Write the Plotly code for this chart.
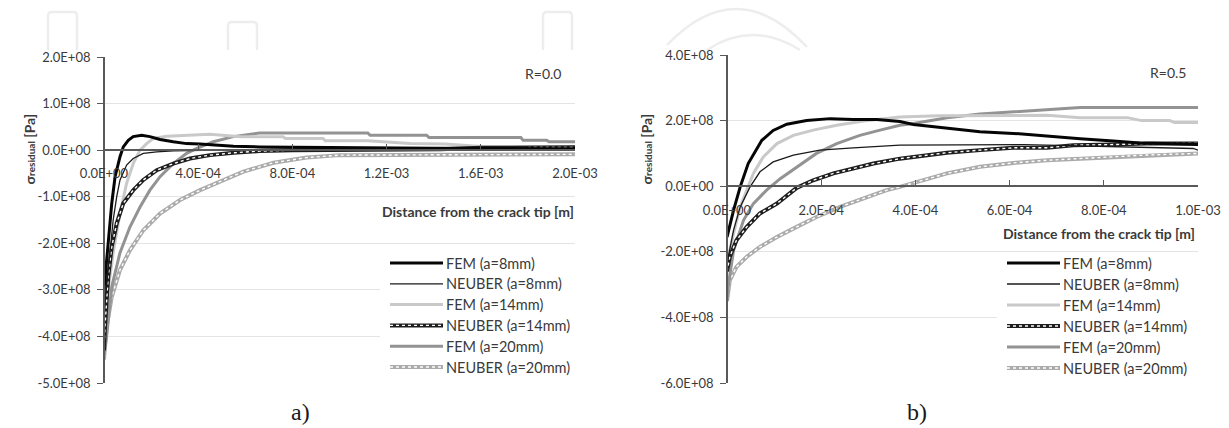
import plotly.graph_objects as go

# ---------------- data: residual stress ahead of the crack tip ----------------
# R = 0.0
r0_fem8_x = [0, 5e-6, 1.8e-5, 3.3e-5, 4.7e-5, 6.8e-5, 8.2e-5, 1.03e-4, 1.24e-4, 1.6e-4, 1.95e-4,
             2.38e-4, 2.94e-4, 3.51e-4, 4.08e-4, 5.5e-4, 6.6e-4, 8.5e-4, 1.0e-3, 1.4e-3, 2.0e-3]
r0_fem8_y = [-3.0e8, -2.7e8, -1.86e8, -1.14e8, -5.7e7, -1.4e7, 7e6, 2.1e7, 2.9e7, 3.2e7, 2.9e7,
             2.3e7, 1.8e7, 1.4e7, 1.3e7, 8.6e6, 7e6, 6e6, 5e6, 4e6, 3e6]
r0_neu8_x = [0, 4e-6, 1.1e-5, 2.5e-5, 3.9e-5, 5.4e-5, 6.8e-5, 9.6e-5, 1.24e-4, 1.67e-4, 2.24e-4,
             2.94e-4, 4.1e-4, 6e-4, 1.0e-3, 1.5e-3, 2.0e-3]
r0_neu8_y = [-3.5e8, -3.2e8, -2.93e8, -2.2e8, -1.5e8, -1.0e8, -6.4e7, -3.2e7, -1.8e7, -7e6, -3.6e6,
             -1.4e6, 0, 1e6, 2e6, 2.5e6, 3e6]
r0_fem14_x = [0, 4e-6, 1.5e-5, 3.9e-5, 6.8e-5, 9.6e-5, 1.24e-4, 1.53e-4, 1.81e-4, 2.09e-4, 2.66e-4,
              3.37e-4, 4.5e-4, 5.8e-4, 7.6e-4, 7.7e-4, 9.3e-4, 9.4e-4, 1.12e-3, 1.3e-3, 1.45e-3,
              1.6e-3, 2.0e-3]
r0_fem14_y = [-3.9e8, -3.6e8, -3.1e8, -2.2e8, -1.36e8, -7.1e7, -2.9e7, 0, 1.4e7, 2.5e7, 3.0e7,
              3.2e7, 3.4e7, 2.9e7, 2.9e7, 2.5e7, 2.5e7, 2.0e7, 2.0e7, 1.4e7, 1.3e7, 8e6, 6e6]
r0_neu14_x = [0, 4e-6, 1.8e-5, 3.3e-5, 5.4e-5, 8.2e-5, 1.24e-4, 1.67e-4, 2.24e-4, 2.94e-4, 3.65e-4,
              4.5e-4, 5.5e-4, 6.6e-4, 8e-4, 1.0e-3, 1.2e-3, 1.43e-3, 1.6e-3, 2.0e-3]
r0_neu14_y = [-4.3e8, -3.8e8, -2.72e8, -2.07e8, -1.57e8, -1.14e8, -8.6e7, -6.4e7, -4.3e7, -2.9e7,
              -1.8e7, -1.07e7, -5.7e6, -2e6, 0, 1e6, 1e6, 2e6, 5e6, 6e6]
r0_fem20_x = [0, 5e-6, 1.1e-5, 3.3e-5, 6.8e-5, 1.1e-4, 1.53e-4, 1.95e-4, 2.38e-4, 2.94e-4, 3.51e-4,
              3.94e-4, 4.64e-4, 5.49e-4, 6.0e-4, 6.6e-4, 1.12e-3, 1.13e-3, 1.37e-3, 1.38e-3,
              1.77e-3, 1.78e-3, 1.88e-3, 1.89e-3, 2.0e-3]
r0_fem20_y = [-4.4e8, -4.2e8, -4.0e8, -2.93e8, -2.2e8, -1.65e8, -1.22e8, -8.6e7, -5.7e7, -2.9e7,
              -7e6, 3.6e6, 1.8e7, 2.9e7, 3.2e7, 3.7e7, 3.7e7, 3.2e7, 3.2e7, 2.7e7, 2.7e7, 2.1e7,
              2.1e7, 1.8e7, 1.8e7]
r0_neu20_x = [0, 1.1e-5, 3.3e-5, 6.8e-5, 1.1e-4, 1.67e-4, 2.38e-4, 3.23e-4, 4.08e-4, 5.07e-4,
              5.92e-4, 7.2e-4, 8.6e-4, 1.0e-3, 1.5e-3, 2.0e-3]
r0_neu20_y = [-4.5e8, -3.8e8, -3.15e8, -2.57e8, -2.15e8, -1.72e8, -1.36e8, -1.07e8, -8.6e7, -6.4e7,
              -4.6e7, -2.7e7, -1.6e7, -1.07e7, -9.5e6, -9e6]

# R = 0.5
r5_fem8_x = [0, 1.4e-5, 2.8e-5, 4.5e-5, 7.4e-5, 9.8e-5, 1.27e-4, 1.69e-4, 2.19e-4, 2.68e-4, 3.18e-4,
             3.67e-4, 3.96e-4, 4.67e-4, 5.37e-4, 6.08e-4, 6.79e-4, 7.5e-4, 8.2e-4, 8.77e-4,
             9.26e-4, 1.0e-3]
r5_fem8_y = [-1.55e8, -7.3e7, -2e6, 6.9e7, 1.4e8, 1.7e8, 1.89e8, 2.0e8, 2.06e8, 2.03e8, 2.03e8,
             1.97e8, 1.88e8, 1.76e8, 1.66e8, 1.61e8, 1.52e8, 1.45e8, 1.38e8, 1.32e8, 1.3e8, 1.27e8]
r5_neu8_x = [0, 1.4e-5, 2.8e-5, 4.9e-5, 7e-5, 9.8e-5, 1.41e-4, 1.97e-4, 2.68e-4, 3.67e-4, 6.3e-4,
             8.7e-4, 9.9e-4, 1.0e-3]
r5_neu8_y = [-2.35e8, -1.34e8, -6.3e7, -2e6, 4.4e7, 7.4e7, 9.5e7, 1.1e8, 1.17e8, 1.25e8, 1.27e8,
             1.2e8, 1.15e8, 1.1e8]
r5_fem14_x = [0, 3e-6, 1.4e-5, 2.8e-5, 4.2e-5, 5.6e-5, 7.7e-5, 1.06e-4, 1.41e-4, 1.83e-4, 2.33e-4,
              2.9e-4, 3.67e-4, 4.5e-4, 6.8e-4, 7.5e-4, 8.5e-4, 8.8e-4, 9.4e-4, 9.5e-4, 1.0e-3]
r5_fem14_y = [-2.4e8, -2.15e8, -1.44e8, -6.3e7, -1.2e7, 3.9e7, 8.9e7, 1.3e8, 1.55e8, 1.71e8,
              1.86e8, 1.99e8, 2.11e8, 2.15e8, 2.16e8, 2.09e8, 2.09e8, 2.0e8, 2.0e8, 1.94e8, 1.94e8]
r5_neu14_x = [0, 6e-6, 2e-5, 4.2e-5, 7e-5, 1.06e-4, 1.48e-4, 1.83e-4, 2.26e-4, 2.68e-4, 3.11e-4,
              3.67e-4, 3.96e-4, 4.67e-4, 5.37e-4, 6.07e-4, 6.79e-4, 7.35e-4, 8.2e-4, 8.9e-4, 1.0e-3]
r5_neu14_y = [-2.6e8, -2.15e8, -1.65e8, -1.24e8, -8.3e7, -5.3e7, -5e6, 1.8e7, 3.9e7, 5.4e7, 6.9e7,
              8.4e7, 8.9e7, 1.02e8, 1.1e8, 1.17e8, 1.17e8, 1.25e8, 1.27e8, 1.3e8, 1.3e8]
r5_fem20_x = [0, 3e-6, 1.4e-5, 3.5e-5, 5.6e-5, 8.4e-5, 1.13e-4, 1.48e-4, 1.9e-4, 2.33e-4, 2.82e-4,
              3.25e-4, 3.67e-4, 3.96e-4, 4.67e-4, 5.37e-4, 6.07e-4, 6.79e-4, 7.5e-4, 1.0e-3]
r5_fem20_y = [-3.5e8, -3.0e8, -1.95e8, -1.04e8, -5.3e7, -1.2e7, 2.3e7, 5.9e7, 1.0e8, 1.3e8, 1.55e8,
              1.71e8, 1.86e8, 1.91e8, 2.09e8, 2.2e8, 2.27e8, 2.34e8, 2.4e8, 2.4e8]
r5_neu20_x = [0, 6e-6, 2e-5, 4.2e-5, 7e-5, 1.06e-4, 1.48e-4, 1.9e-4, 2.4e-4, 2.89e-4, 3.39e-4,
              3.67e-4, 3.96e-4, 4.67e-4, 5.37e-4, 6.08e-4, 6.79e-4, 7.5e-4, 8.2e-4, 8.9e-4, 1.0e-3]
r5_neu20_y = [-3.5e8, -2.87e8, -2.46e8, -2.15e8, -1.85e8, -1.55e8, -1.24e8, -9.4e7, -6.3e7, -3.8e7,
              -1.2e7, -2e6, 1.0e7, 3.9e7, 5.9e7, 7.1e7, 7.9e7, 8.4e7, 8.9e7, 9.5e7, 1.0e8]

series_names = ["FEM (a=8mm)", "NEUBER (a=8mm)", "FEM (a=14mm)",
                "NEUBER (a=14mm)", "FEM (a=20mm)", "NEUBER (a=20mm)"]

left_series = [(r0_fem8_x, r0_fem8_y), (r0_neu8_x, r0_neu8_y), (r0_fem14_x, r0_fem14_y),
               (r0_neu14_x, r0_neu14_y), (r0_fem20_x, r0_fem20_y), (r0_neu20_x, r0_neu20_y)]
right_series = [(r5_fem8_x, r5_fem8_y), (r5_neu8_x, r5_neu8_y), (r5_fem14_x, r5_fem14_y),
                (r5_neu14_x, r5_neu14_y), (r5_fem20_x, r5_fem20_y), (r5_neu20_x, r5_neu20_y)]

# axis ticks
left_xticks = [0, 4e-4, 8e-4, 1.2e-3, 1.6e-3, 2.0e-3]
left_xlabels = ["0.0E+00", "4.0E-04", "8.0E-04", "1.2E-03", "1.6E-03", "2.0E-03"]
left_yticks = [2e8, 1e8, 0, -1e8, -2e8, -3e8, -4e8, -5e8]
left_ylabels = ["2.0E+08", "1.0E+08", "0.0E+00", "-1.0E+08", "-2.0E+08", "-3.0E+08",
                "-4.0E+08", "-5.0E+08"]
right_xticks = [0, 2e-4, 4e-4, 6e-4, 8e-4, 1.0e-3]
right_xlabels = ["0.0E+00", "2.0E-04", "4.0E-04", "6.0E-04", "8.0E-04", "1.0E-03"]
right_yticks = [4e8, 2e8, 0, -2e8, -4e8, -6e8]
right_ylabels = ["4.0E+08", "2.0E+08", "0.0E+00", "-2.0E+08", "-4.0E+08", "-6.0E+08"]

# ---------------- styling ----------------
W, H = 1229, 428
FONT = "Lato"
TXT = "#3a3a3a"
AXIS = "#595959"
GRID = "#e4e4e4"

# (colour, width, white dotted overlay?)
styles = [
    ("#050505", 3.0, False),
    ("#1a1a1a", 1.3, False),
    ("#c9c9c9", 3.0, False),
    ("#1e1e1e", 4.0, True),
    ("#939393", 3.0, False),
    ("#ababab", 4.0, True),
]


def px(x):
    return x / W


def py(y):
    return 1 - y / H


fig = go.Figure()

# light curves first so the dark ones sit on top
order = [5, 4, 2, 3, 1, 0]


def add_ordered(series, xa, ya):
    for i in order:
        xs, ys = series[i]
        col, wd, dotted = styles[i]
        fig.add_trace(go.Scatter(x=xs, y=ys, mode="lines", name=series_names[i], xaxis=xa,
                                 yaxis=ya, line=dict(color=col, width=wd), showlegend=False,
                                 hoverinfo="skip"))
        if dotted:
            fig.add_trace(go.Scatter(x=xs, y=ys, mode="lines", xaxis=xa, yaxis=ya,
                                     line=dict(color="white", width=1.4, dash="dot"),
                                     showlegend=False, hoverinfo="skip"))


add_ordered(left_series, "x", "y")
add_ordered(right_series, "x2", "y2")

# plot-area geometry (pixels)
L_X0, L_X1, L_Y0, L_Y1 = 104, 575, 57, 383
R_X0, R_X1, R_Y0, R_Y1 = 727, 1198, 55, 383
L_YR = [-5e8, 2e8]
R_YR = [-6e8, 4e8]


def zero_pos(ydom, yr):
    return ydom[0] + (0 - yr[0]) / (yr[1] - yr[0]) * (ydom[1] - ydom[0])


l_ydom = [py(L_Y1), py(L_Y0)]
r_ydom = [py(R_Y1), py(R_Y0)]
l_xdom = [px(L_X0), px(L_X1)]
r_xdom = [px(R_X0), px(R_X1)]

tickfont = dict(family=FONT, size=13, color=TXT)


def xaxis_cfg(dom, rng, tv, tt, pos):
    return dict(domain=dom, range=rng, anchor="free", position=pos, showline=True,
                linecolor=AXIS, linewidth=1.5, ticks="inside", ticklen=5, tickcolor=AXIS,
                tickvals=tv, ticktext=tt, showgrid=False, zeroline=False, tickfont=tickfont,
                ticklabelstandoff=12, automargin=False)


def yaxis_cfg(dom, rng, tv, tt, pos):
    return dict(domain=dom, range=rng, anchor="free", position=pos, showline=True,
                linecolor=AXIS, linewidth=1.8, ticks="outside", ticklen=6, tickcolor=AXIS,
                tickvals=tv, ticktext=tt, showgrid=True, gridcolor=GRID, gridwidth=1,
                zeroline=False, tickfont=tickfont, ticklabelstandoff=4, automargin=False)


fig.update_layout(
    width=W, height=H, margin=dict(l=0, r=0, t=0, b=0, autoexpand=False),
    paper_bgcolor="white", plot_bgcolor="white", showlegend=False,
    xaxis=xaxis_cfg(l_xdom, [0, 2e-3], left_xticks, left_xlabels, zero_pos(l_ydom, L_YR)),
    yaxis=yaxis_cfg(l_ydom, L_YR, left_yticks, left_ylabels, l_xdom[0]),
    xaxis2=xaxis_cfg(r_xdom, [0, 1e-3], right_xticks, right_xlabels, zero_pos(r_ydom, R_YR)),
    yaxis2=yaxis_cfg(r_ydom, R_YR, right_yticks, right_ylabels, r_xdom[0]),
)

shapes = []
annotations = []

# faint logo outlines along the top edge
faint = dict(color="#ededed", width=2.5)


def arch(x0, x1, ytop, ybot):
    return (f"M {px(x0)},{py(ybot)} L {px(x0)},{py(ytop + 4)} Q {px(x0)},{py(ytop)} "
            f"{px(x0 + 4)},{py(ytop)} L {px(x1 - 4)},{py(ytop)} Q {px(x1)},{py(ytop)} "
            f"{px(x1)},{py(ytop + 4)} L {px(x1)},{py(ybot)}")


for x0, x1, yt in [(48, 77, 12), (228, 257, 22), (543, 572, 12)]:
    shapes.append(dict(type="path", xref="paper", yref="paper", path=arch(x0, x1, yt, 50),
                       line=faint, layer="below"))
shapes.append(dict(type="path", xref="paper", yref="paper", layer="below", line=faint,
                   path=f"M {px(667)},{py(45)} Q {px(737)},{py(-28)} {px(807)},{py(47)}"))
shapes.append(dict(type="path", xref="paper", yref="paper", layer="below", line=faint,
                   path=f"M {px(707)},{py(50)} Q {px(752)},{py(20)} {px(800)},{py(50)}"))


def add_legend(box, sx0, sx1, ty0, dy):
    bx0, by0, bx1, by1 = box
    shapes.append(dict(type="rect", xref="paper", yref="paper", x0=px(bx0), x1=px(bx1),
                       y0=py(by1), y1=py(by0), fillcolor="white", line=dict(width=0),
                       layer="above"))
    for i, name in enumerate(series_names):
        col, wd, dotted = styles[i]
        yy = ty0 + i * dy
        shapes.append(dict(type="line", xref="paper", yref="paper", x0=px(sx0), x1=px(sx1),
                           y0=py(yy), y1=py(yy), line=dict(color=col, width=wd),
                           layer="above"))
        if dotted:
            shapes.append(dict(type="line", xref="paper", yref="paper", x0=px(sx0),
                               x1=px(sx1), y0=py(yy), y1=py(yy),
                               line=dict(color="white", width=1.4, dash="dot"),
                               layer="above"))
        annotations.append(dict(xref="paper", yref="paper", x=px(sx1 + 1), y=py(yy),
                                text=name, showarrow=False, xanchor="left",
                                yanchor="middle",
                                font=dict(family=FONT, size=14.5, color=TXT)))


add_legend((380, 250, 576, 378), 390, 443, 263, 20.8)
add_legend((997, 254, 1199, 379), 1007, 1060, 263, 21)

ytitle = "<b>σ<span style='font-size:10px'>residual</span> [Pa]</b>"
for xl in (18, 635):
    annotations.append(dict(xref="paper", yref="paper", x=px(xl), y=py(149), text=ytitle,
                            textangle=-90, showarrow=False, xanchor="left",
                            yanchor="middle", font=dict(family=FONT, size=14, color=TXT)))

xtitle = "<b>Distance from the crack tip [m]</b>"
annotations.append(dict(xref="paper", yref="paper", x=px(576), y=py(212), text=xtitle,
                        showarrow=False, xanchor="right", yanchor="middle",
                        font=dict(family=FONT, size=14, color=TXT)))
annotations.append(dict(xref="paper", yref="paper", x=px(1197), y=py(233), text=xtitle,
                        showarrow=False, xanchor="right", yanchor="middle",
                        font=dict(family=FONT, size=14, color=TXT)))

annotations.append(dict(xref="paper", yref="paper", x=px(543), y=py(74), text="R=0.0",
                        showarrow=False, xanchor="center", yanchor="middle",
                        font=dict(family=FONT, size=14, color=TXT)))
annotations.append(dict(xref="paper", yref="paper", x=px(1168), y=py(73), text="R=0.5",
                        showarrow=False, xanchor="center", yanchor="middle",
                        font=dict(family=FONT, size=14, color=TXT)))

annotations.append(dict(xref="paper", yref="paper", x=px(300), y=py(412), text="a)",
                        showarrow=False, xanchor="center", yanchor="middle",
                        font=dict(family="Liberation Serif", size=24, color="#1a1a1a")))
annotations.append(dict(xref="paper", yref="paper", x=px(917), y=py(412), text="b)",
                        showarrow=False, xanchor="center", yanchor="middle",
                        font=dict(family="Liberation Serif", size=24, color="#1a1a1a")))

fig.update_layout(shapes=shapes, annotations=annotations)

fig.write_html("out.html")
